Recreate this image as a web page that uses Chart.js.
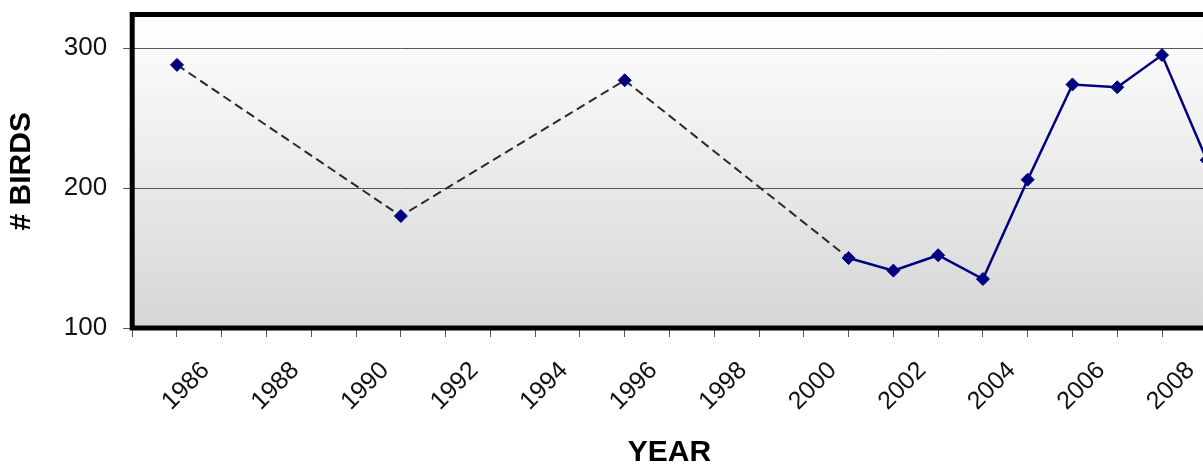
<!DOCTYPE html>
<html>
<head>
<meta charset="utf-8">
<script src="https://cdn.jsdelivr.net/npm/chart.js@4.4.1/dist/chart.umd.min.js"></script>
<style>
  html, body { margin: 0; padding: 0; overflow: hidden; background: #fff; width: 1203px; height: 464px; }
  #wrap { position: relative; width: 1227px; height: 464px; }
  canvas { display: block; }
</style>
</head>
<body>
<div id="wrap"><canvas id="birds" width="1227" height="464"></canvas></div>
<script>
// Survey years and bird counts
const surveyYears = [1985, 1990, 1995, 2000, 2001, 2002, 2003, 2004, 2005, 2006, 2007, 2008];
const birdCounts  = [288, 180, 277, 150, 141, 152, 135, 206, 274, 272, 295, 220];

// Axis extents and labelled ticks
const yearRange   = [1984, 2008];
const yearLabels  = [1986, 1988, 1990, 1992, 1994, 1996, 1998, 2000, 2002, 2004, 2006, 2008];
const countRange  = [100, 324];
const countTicks  = [100, 200, 300];

const FONT = "'Liberation Sans', Arial, sans-serif";
const NAVY = '#000080';

// Grey vertical gradient behind the plot
const plotBackground = {
  id: 'plotBackground',
  beforeDraw(chart) {
    const { ctx, chartArea: a } = chart;
    const g = ctx.createLinearGradient(0, a.top, 0, a.bottom);
    g.addColorStop(0, '#ffffff');
    g.addColorStop(1, '#d6d6d6');
    ctx.save();
    ctx.fillStyle = g;
    ctx.fillRect(a.left, a.top, a.right - a.left, a.bottom - a.top);
    ctx.restore();
  }
};

// Heavy black frame round the plot area
const plotFrame = {
  id: 'plotFrame',
  beforeDatasetsDraw(chart) {
    const { ctx, chartArea: a } = chart;
    ctx.save();
    ctx.strokeStyle = '#000';
    ctx.lineWidth = 5;
    ctx.strokeRect(a.left, a.top, a.right - a.left, a.bottom - a.top);
    ctx.restore();
  }
};

const points = surveyYears.map((yr, i) => ({ x: yr, y: birdCounts[i] }));
// Segments spanning skipped years are drawn dashed
const isGap = ctx => (ctx.p1.parsed.x - ctx.p0.parsed.x) > 1;

new Chart(document.getElementById('birds'), {
  type: 'line',
  data: {
    datasets: [{
      data: points,
      borderColor: NAVY,
      borderWidth: 2.5,
      pointStyle: 'rectRot',
      pointRadius: 6.5,
      pointBackgroundColor: NAVY,
      pointBorderColor: NAVY,
      pointBorderWidth: 1,
      tension: 0,
      clip: false,
      segment: {
        borderColor: ctx => isGap(ctx) ? '#2a2a2a' : NAVY,
        borderDash: ctx => isGap(ctx) ? [9, 5] : undefined,
        borderWidth: ctx => isGap(ctx) ? 2 : 2.5
      }
    }]
  },
  options: {
    responsive: false,
    animation: false,
    layout: { autoPadding: false, padding: { top: 14.5, right: 20.2, left: 0, bottom: 0 } },
    plugins: { legend: { display: false }, tooltip: { enabled: false } },
    scales: {
      x: {
        type: 'linear',
        min: yearRange[0],
        max: yearRange[1],
        afterBuildTicks: s => {
          const t = [];
          for (let v = yearRange[0]; v <= yearRange[1]; v++) t.push({ value: v });
          s.ticks = t;
        },
        afterFit: s => { s.height = 136; s.paddingLeft = 0; s.paddingRight = 0; },
        border: { display: false },
        grid: { drawOnChartArea: false, drawTicks: true, tickLength: 9, color: '#555', lineWidth: 1 },
        ticks: {
          autoSkip: false,
          minRotation: 45,
          maxRotation: 45,
          padding: 19,
          labelOffset: -16,
          color: '#111',
          font: { family: FONT, size: 25 },
          callback: v => yearLabels.includes(v) ? String(v) : ''
        },
        title: {
          display: true,
          text: 'YEAR',
          color: '#000',
          font: { family: FONT, size: 30, weight: 'bold' },
          padding: { top: 0, bottom: -7 }
        }
      },
      y: {
        type: 'linear',
        min: countRange[0],
        max: countRange[1],
        afterBuildTicks: s => { s.ticks = countTicks.map(v => ({ value: v })); },
        afterFit: s => { s.width = 132.2; s.paddingTop = 0; s.paddingBottom = 0; },
        border: { display: false },
        grid: { color: '#555', lineWidth: 1, tickLength: 9, drawTicks: true },
        ticks: {
          padding: 16,
          color: '#111',
          font: { family: FONT, size: 26, lineHeight: 1 }
        },
        title: {
          display: true,
          text: '# BIRDS',
          color: '#000',
          font: { family: FONT, size: 30, weight: 'bold' },
          padding: { top: 4, bottom: 0 }
        }
      }
    }
  },
  plugins: [plotBackground, plotFrame]
});
</script>
</body>
</html>
